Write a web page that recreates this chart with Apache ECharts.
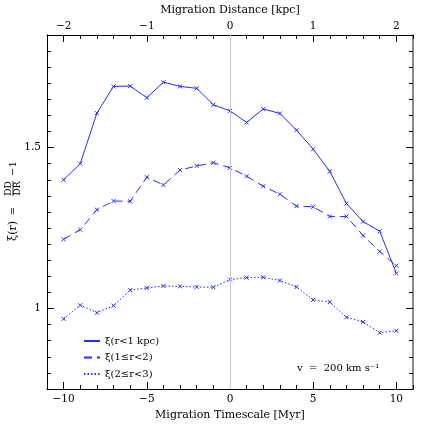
<!DOCTYPE html>
<html>
  <head>
    <meta charset="utf-8" />
    <title>Migration correlation</title>
    <style>
      html, body { margin: 0; padding: 0; background: #fff; }
    </style>
  </head>
  <body>
    <script src="https://cdn.jsdelivr.net/npm/echarts@6/dist/echarts.min.js"></script>

    <div id="chart" style="width: 436px; height: 436px"></div>

    <script>
      // migration timescale [Myr]
      const timescale = [-10, -9, -8, -7, -6, -5, -4, -3, -2, -1, 0, 1, 2, 3, 4, 5, 6, 7, 8, 9, 10];
      // xi(r<1 kpc)
      const xiInner = [1.40, 1.45, 1.607, 1.69, 1.691, 1.655, 1.703, 1.69, 1.684, 1.633, 1.614,
        1.578, 1.62, 1.606, 1.554, 1.495, 1.426, 1.326, 1.27, 1.24, 1.109];
      // xi(1<=r<2)
      const xiMid = [1.215, 1.245, 1.307, 1.334, 1.333, 1.408, 1.384, 1.43, 1.443, 1.453, 1.437,
        1.411, 1.38, 1.355, 1.318, 1.316, 1.286, 1.286, 1.227, 1.177, 1.133];
      // xi(2<=r<3)
      const xiOuter = [0.968, 1.01, 0.987, 1.009, 1.057, 1.064, 1.07, 1.069, 1.067, 1.066, 1.09,
        1.096, 1.097, 1.087, 1.067, 1.027, 1.02, 0.973, 0.958, 0.925, 0.931];

      const seriesNames = ['ξ(r<1 kpc)', 'ξ(1≤r<2)', 'ξ(2≤r<3)'];
      const timeTicks = [-10, -5, 0, 5, 10];
      const distTicks = [-2, -1, 0, 1, 2];
      const xiTicks = [1, 1.5];

      const FONT = 'DejaVu Serif';
      const BLUE = '#2b2bff';
      const cross = 'path://M0,0L10,10M10,0L0,10';

      function minus(v) {
        return String(v).replace('-', '\u2212');
      }

      function pairs(ys) {
        return timescale.map((t, i) => [t, ys[i]]);
      }

      const labelStyle = { fontFamily: FONT, fontSize: 10.5, color: '#000' };
      const lineBlack = { lineStyle: { color: '#000', width: 1 } };

      // major axis (ticks + labels) and a minor-tick overlay
      function majorAxis(extra) {
        return Object.assign({
          type: 'value',
          axisLine: Object.assign({ show: true, onZero: false }, lineBlack),
          splitLine: { show: false },
          nameTextStyle: { fontFamily: FONT, fontSize: 11, color: '#000' },
        }, extra);
      }
      function minorAxis(extra) {
        return Object.assign({
          type: 'value',
          axisLine: { show: false, onZero: false },
          axisLabel: { show: false },
          axisTick: { show: true, inside: true, length: 4, lineStyle: { color: '#000' } },
          splitLine: { show: false },
        }, extra);
      }

      const chart = echarts.init(document.getElementById('chart'), null, {
        width: 436,
        height: 436,
      });

      function series(name, ys, type) {
        return {
          name: name,
          type: 'line',
          xAxisIndex: 0,
          yAxisIndex: 0,
          data: pairs(ys),
          symbol: cross,
          symbolSize: 4,
          itemStyle: { color: BLUE, borderColor: BLUE, borderWidth: 1 },
          lineStyle: { color: BLUE, width: 1, type: type },
          emphasis: { disabled: true },
        };
      }

      const s0 = series(seriesNames[0], xiInner, 'solid');
      s0.markLine = {
        silent: true,
        symbol: 'none',
        label: { show: false },
        lineStyle: { color: '#c8c8c8', type: 'solid', width: 1 },
        data: [{ xAxis: 0 }],
      };

      chart.setOption({
        animation: false,
        backgroundColor: '#fff',
        grid: { left: 47, right: 23, top: 23, bottom: 47 },
        legend: {
          orient: 'vertical',
          left: 78,
          top: 331,
          itemWidth: 16,
          itemHeight: 10,
          itemGap: 6.5,
          itemStyle: { opacity: 0 },
          textStyle: { fontFamily: FONT, fontSize: 10, color: '#000' },
          data: seriesNames,
        },
        xAxis: [
          majorAxis({
            position: 'bottom',
            min: -11,
            max: 11,
            name: 'Migration Timescale [Myr]',
            nameLocation: 'middle',
            nameGap: 17,
            axisTick: { show: true, inside: true, length: 7, customValues: timeTicks, lineStyle: { color: '#000' } },
            axisLabel: Object.assign({ customValues: timeTicks, margin: 5, formatter: minus }, labelStyle),
          }),
          minorAxis({ position: 'bottom', min: -11, max: 11, interval: 1 }),
          majorAxis({
            position: 'top',
            min: -2.2,
            max: 2.2,
            name: 'Migration Distance [kpc]',
            nameLocation: 'middle',
            nameGap: 15,
            axisTick: { show: true, inside: true, length: 7, customValues: distTicks, lineStyle: { color: '#000' } },
            axisLabel: Object.assign({ customValues: distTicks, margin: 3, formatter: minus }, labelStyle),
          }),
          minorAxis({ position: 'top', min: -2.2, max: 2.2, interval: 0.2 }),
        ],
        yAxis: [
          majorAxis({
            position: 'left',
            min: 0.75,
            max: 1.85,
            axisTick: { show: true, inside: true, length: 7, customValues: xiTicks, lineStyle: { color: '#000' } },
            axisLabel: Object.assign({ customValues: xiTicks, margin: 6 }, labelStyle),
          }),
          minorAxis({ position: 'left', min: 0.75, max: 1.85, interval: 0.05 }),
          majorAxis({
            position: 'right',
            min: 0.75,
            max: 1.85,
            axisLine: { show: true, onZero: false, lineStyle: { color: '#666', width: 1.5 } },
            axisTick: { show: true, inside: true, length: 7, customValues: xiTicks, lineStyle: { color: '#000' } },
            axisLabel: { show: false },
          }),
          minorAxis({ position: 'right', min: 0.75, max: 1.85, interval: 0.05 }),
        ],
        graphic: [
          {
            type: 'group',
            x: 13,
            y: 206,
            rotation: Math.PI / 2,
            children: [
              { type: 'text', x: -15, y: 0, style: { text: 'ξ(r)', font: '11px ' + FONT, align: 'right', verticalAlign: 'middle', fill: '#000' } },
              { type: 'text', x: -5, y: 0, style: { text: '=', font: '10px ' + FONT, align: 'center', verticalAlign: 'middle', fill: '#000' } },
              { type: 'text', x: 17.5, y: -4.5, style: { text: 'DD', font: '9px ' + FONT, align: 'center', verticalAlign: 'middle', fill: '#000' } },
              { type: 'line', shape: { x1: 10, y1: 0, x2: 25, y2: 0 }, style: { stroke: '#000', lineWidth: 0.8 } },
              { type: 'text', x: 17.5, y: 4.5, style: { text: 'DR', font: '9px ' + FONT, align: 'center', verticalAlign: 'middle', fill: '#000' } },
              { type: 'text', x: 30, y: 0, style: { text: '\u22121', font: '10px ' + FONT, align: 'left', verticalAlign: 'middle', fill: '#000' } },
            ],
          },
          {
            type: 'text',
            left: 297,
            top: 363,
            style: { text: 'v  =  200 km s⁻¹', font: '10px ' + FONT, fill: '#000' },
          },
        ],
        series: [
          s0,
          series(seriesNames[1], xiMid, [8, 5]),
          series(seriesNames[2], xiOuter, [1.5, 2]),
        ],
      });
    </script>
  </body>
</html>
